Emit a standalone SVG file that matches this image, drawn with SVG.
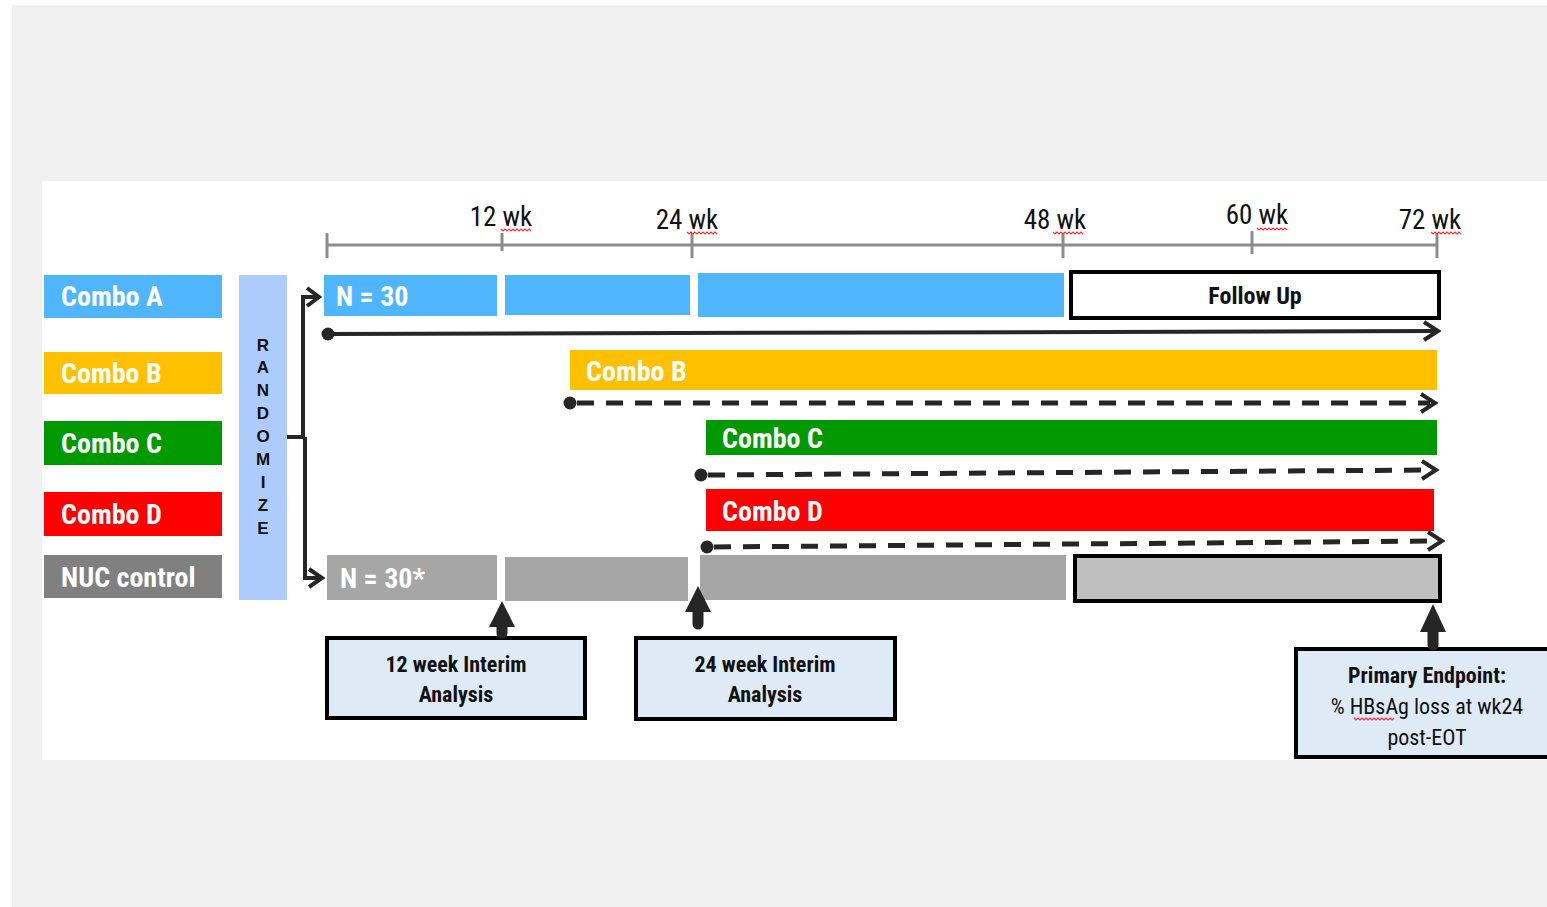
<svg xmlns="http://www.w3.org/2000/svg" width="1547" height="907" viewBox="0 0 1547 907">
<defs>
<style>
.t{font-family:"Liberation Sans Narrow","Roboto Condensed","Liberation Sans",Arial,sans-serif}
.lbl{font-weight:bold;font-size:28px;fill:#fff}
.ax{font-size:27px;fill:#111}
.bx{font-weight:bold;font-size:22px;fill:#111;text-anchor:middle}
.nw{font-weight:normal}
.rz{font-weight:bold;font-size:17px;fill:#111;text-anchor:middle;font-family:"Liberation Sans",Arial,sans-serif}
.tick{stroke:#8c8c8c;stroke-width:3;fill:none}
.solid{stroke:#262626;stroke-width:4;fill:none}
.dash{stroke:#262626;stroke-width:5;fill:none;stroke-dasharray:17 12}
.chev{stroke:#262626;stroke-width:4;fill:none;stroke-linejoin:miter}
.ibox{fill:#DEEAF6;stroke:#000;stroke-width:4}
.wave{stroke:#e33;stroke-width:1.2;fill:none}
</style>
</defs>
<rect x="0" y="0" width="1547" height="907" fill="#fff"/>
<rect x="12" y="5" width="1535" height="902" fill="#f0f0f0"/>
<rect x="42" y="181" width="1505" height="579" fill="#fff"/>

<g id="legend">
<rect x="44" y="275" width="178" height="43" fill="#4FB6FD"/>
<text class="t lbl" x="61" y="306">Combo A</text>
<rect x="44" y="352" width="178" height="42" fill="#FFC000"/>
<text class="t lbl" x="61" y="383">Combo B</text>
<rect x="44" y="421" width="178" height="44" fill="#009900"/>
<text class="t lbl" x="61" y="453">Combo C</text>
<rect x="44" y="492" width="178" height="44" fill="#FF0000"/>
<text class="t lbl" x="61" y="524">Combo D</text>
<rect x="44" y="555" width="178" height="43" fill="#808080"/>
<text class="t lbl" x="61" y="587">NUC control</text>
</g>

<g id="randomize">
<rect x="239" y="275" width="48" height="325" fill="#ADCCFD"/>
<text class="rz" x="263" y="351">R</text>
<text class="rz" x="263" y="373">A</text>
<text class="rz" x="263" y="396">N</text>
<text class="rz" x="263" y="419">D</text>
<text class="rz" x="263" y="442">O</text>
<text class="rz" x="263" y="465">M</text>
<text class="rz" x="263" y="488">I</text>
<text class="rz" x="263" y="511">Z</text>
<text class="rz" x="263" y="534">E</text>
</g>

<g id="axis">
<line class="tick" x1="327" y1="245" x2="1437" y2="245"/>
<line class="tick" x1="327" y1="233" x2="327" y2="258"/>
<line class="tick" x1="502" y1="233" x2="502" y2="251"/>
<line class="tick" x1="692" y1="233" x2="692" y2="258"/>
<line class="tick" x1="1063" y1="233" x2="1063" y2="258"/>
<line class="tick" x1="1252" y1="231" x2="1252" y2="254"/>
<line class="tick" x1="1437" y1="233" x2="1437" y2="258"/>
<text class="t ax" x="501" y="226" text-anchor="middle">12 wk</text>
<text class="t ax" x="687" y="229" text-anchor="middle">24 wk</text>
<text class="t ax" x="1055" y="229" text-anchor="middle">48 wk</text>
<text class="t ax" x="1257" y="224" text-anchor="middle">60 wk</text>
<text class="t ax" x="1430" y="229" text-anchor="middle">72 wk</text>
<path class="wave" d="M501,229 l2,2 l2,-2 l2,2 l2,-2 l2,2 l2,-2 l2,2 l2,-2 l2,2 l2,-2 l2,2 l2,-2 l2,2 l2,-2 l2,2"/>
<path class="wave" d="M687,232 l2,2 l2,-2 l2,2 l2,-2 l2,2 l2,-2 l2,2 l2,-2 l2,2 l2,-2 l2,2 l2,-2 l2,2 l2,-2 l2,2"/>
<path class="wave" d="M1053,232 l2,2 l2,-2 l2,2 l2,-2 l2,2 l2,-2 l2,2 l2,-2 l2,2 l2,-2 l2,2 l2,-2 l2,2 l2,-2 l2,2"/>
<path class="wave" d="M1257,228 l2,2 l2,-2 l2,2 l2,-2 l2,2 l2,-2 l2,2 l2,-2 l2,2 l2,-2 l2,2 l2,-2 l2,2 l2,-2 l2,2"/>
<path class="wave" d="M1431,232 l2,2 l2,-2 l2,2 l2,-2 l2,2 l2,-2 l2,2 l2,-2 l2,2 l2,-2 l2,2 l2,-2 l2,2 l2,-2 l2,2"/>
</g>

<g id="comboA">
<rect x="324" y="275" width="173" height="41" fill="#4FB6FD"/>
<text class="t lbl" x="336" y="306">N = 30</text>
<rect x="505" y="275" width="185" height="40" fill="#4FB6FD"/>
<rect x="698" y="273" width="366" height="44" fill="#4FB6FD"/>
</g>
<g id="followup">
<rect x="1071" y="272" width="368" height="46" fill="#fff" stroke="#000" stroke-width="4"/>
<text class="t" x="1255" y="304" text-anchor="middle" font-weight="bold" font-size="24" fill="#111">Follow Up</text>
</g>

<g id="comboB">
<rect x="570" y="350" width="867" height="40" fill="#FFC000"/>
<text class="t lbl" x="586" y="381">Combo B</text>
</g>
<g id="comboC">
<rect x="706" y="420" width="731" height="35" fill="#009900"/>
<text class="t lbl" x="722" y="448">Combo C</text>
</g>
<g id="comboD">
<rect x="706" y="489" width="728" height="42" fill="#FF0000"/>
<text class="t lbl" x="722" y="521">Combo D</text>
</g>

<g id="nuc">
<rect x="327" y="555" width="170" height="45" fill="#A6A6A6"/>
<text class="t lbl" x="340" y="588">N = 30*</text>
<rect x="505" y="557" width="183" height="44" fill="#A6A6A6"/>
<rect x="700" y="555" width="366" height="45" fill="#A6A6A6"/>
<rect x="1075" y="556" width="365" height="45" fill="#BFBFBF" stroke="#000" stroke-width="4"/>
</g>

<g id="box12">
<rect class="ibox" x="327" y="638" width="258" height="80"/>
<text class="t bx" x="456" y="672">12 week Interim</text>
<text class="t bx" x="456" y="702">Analysis</text>
</g>
<g id="box24">
<rect class="ibox" x="636" y="638" width="259" height="81"/>
<text class="t bx" x="765" y="672">24 week Interim</text>
<text class="t bx" x="765" y="702">Analysis</text>
</g>
<g id="boxPrimary">
<rect class="ibox" x="1296" y="649" width="256" height="108"/>
<text class="t bx" x="1427" y="683">Primary Endpoint:</text>
<text class="t bx nw" x="1427" y="714">% HBsAg loss at wk24</text>
<text class="t bx nw" x="1427" y="745">post-EOT</text>
<path class="wave" d="M1354,718 l2,2 l2,-2 l2,2 l2,-2 l2,2 l2,-2 l2,2 l2,-2 l2,2 l2,-2 l2,2 l2,-2 l2,2 l2,-2 l2,2 l2,-2 l2,2 l2,-2 l2,2 l2,-2"/>
</g>

<g id="connectors">
<polyline class="solid" points="287,437 305,437"/>
<polyline class="solid" points="303,437 303,297 320,297"/>
<polyline class="solid" points="305,437 305,578 322,578"/>
<polyline class="chev" points="307,288 319,297 307,306"/>
<polyline class="chev" points="309,569 322,578 309,587"/>
<line class="solid" x1="328" y1="334" x2="1436" y2="331"/>
<circle cx="328" cy="334" r="6.5" fill="#262626"/>
<polyline class="chev" points="1424,322 1438,331 1424,340"/>
<line class="dash" x1="577" y1="403" x2="1430" y2="403"/>
<circle cx="570" cy="403" r="6.5" fill="#262626"/>
<polyline class="chev" points="1421,394 1435,403 1421,412"/>
<line class="dash" x1="708" y1="475" x2="1430" y2="470"/>
<circle cx="701" cy="475" r="6.5" fill="#262626"/>
<polyline class="chev" points="1422,461 1436,470 1422,479"/>
<line class="dash" x1="714" y1="547" x2="1436" y2="541"/>
<circle cx="707" cy="547" r="6.5" fill="#262626"/>
<polyline class="chev" points="1428,532 1442,541 1428,550"/>
<path d="M502,601 L515,627 L489,627 Z" fill="#262626"/>
<line x1="502" y1="620" x2="502" y2="633" stroke="#262626" stroke-width="11" stroke-linecap="round"/>
<path d="M698,586 L711,612 L685,612 Z" fill="#262626"/>
<line x1="698" y1="606" x2="698" y2="624" stroke="#262626" stroke-width="11" stroke-linecap="round"/>
<path d="M1433,604 L1446,632 L1420,632 Z" fill="#262626"/>
<line x1="1433" y1="625" x2="1433" y2="645" stroke="#262626" stroke-width="11" stroke-linecap="round"/>
</g>
</svg>
